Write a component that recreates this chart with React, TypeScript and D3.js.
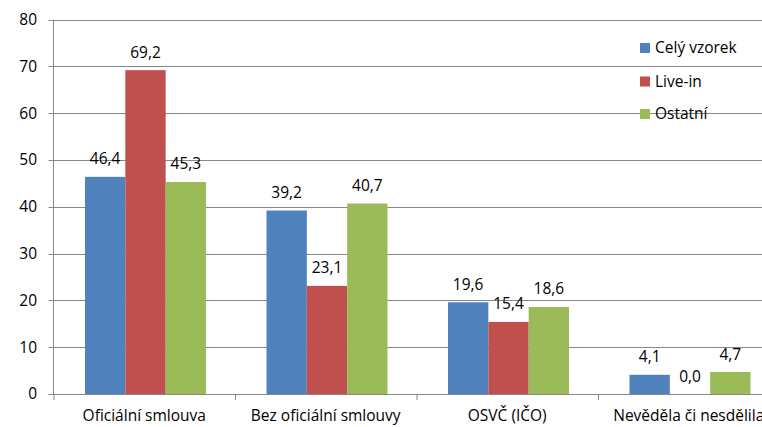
import React from "react";
import * as d3 from "d3";

const categories = ["Oficiální smlouva", "Bez oficiální smlouvy", "OSVČ (IČO)", "Nevěděla či nesdělila"];
const seriesNames = ["Celý vzorek", "Live-in", "Ostatní"];
const celyVzorek = [46.4, 39.2, 19.6, 4.1];
const liveIn = [69.2, 23.1, 15.4, 0.0];
const ostatni = [45.3, 40.7, 18.6, 4.7];
const yTicks = [0, 10, 20, 30, 40, 50, 60, 70, 80];
const colors = ["#4F81BD", "#C0504D", "#9BBB59"];

const W = 762;
const H = 427;
const FONT = "'Open Sans', Lato, sans-serif";
const FS = 15.5;

export default function App() {
  const seriesValues = [celyVzorek, liveIn, ostatni];
  const left = 53.5;
  const band = 181.5;
  const x = d3.scaleBand<string>().domain(categories).range([left, left + band * categories.length]).padding(0);
  const inner = d3.scaleBand<string>().domain(seriesNames).range([31.5, 152.5]).padding(0);
  const y = d3.scaleLinear().domain([0, 80]).range([394, 19.6]);
  const fmt = (v: number) => v.toFixed(1).replace(".", ",");

  return (
    <svg width={W} height={H} style={{ position: "absolute", left: 0, top: 0, background: "#fff" }}>
      <rect x={0} y={0} width={W} height={H} fill="#fff" />
      {yTicks.map((t) => (
        <g key={t}>
          <line x1={left - 5} x2={W} y1={Math.round(y(t)) + 0.5} y2={Math.round(y(t)) + 0.5} stroke="#878787" strokeWidth={1} />
          <text x={37} y={y(t)} dy="0.35em" textAnchor="end" fontFamily={FONT} fontSize={FS} fill="#000">
            {t}
          </text>
        </g>
      ))}
      <line x1={left} x2={left} y1={y(80)} y2={y(0)} stroke="#878787" strokeWidth={1} />
      {categories.map((c, i) => (
        <line key={"xt" + i} x1={(x(c) as number) + 0.5} x2={(x(c) as number) + 0.5} y1={y(0)} y2={y(0) + 6} stroke="#878787" strokeWidth={1} />
      ))}
      <line x1={left + band * 4 + 0.5} x2={left + band * 4 + 0.5} y1={y(0)} y2={y(0) + 6} stroke="#878787" />
      {seriesNames.map((s, si) =>
        categories.map((c, ci) => {
          const v = seriesValues[si][ci];
          const bx = (x(c) as number) + (inner(s) as number);
          const bw = inner.bandwidth();
          return (
            <g key={s + c}>
              {v > 0 && <rect x={bx} y={y(v)} width={bw} height={y(0) - y(v)} fill={colors[si]} />}
              <text x={bx + bw / 2} y={y(v) - 12.5} textAnchor="middle" fontFamily={FONT} fontSize={FS} fill="#000">
                {fmt(v)}
              </text>
            </g>
          );
        })
      )}
      {categories.map((c) => (
        <text key={"cl" + c} x={(x(c) as number) + band / 2} y={421} textAnchor="middle" fontFamily={FONT} fontSize={FS} fill="#000">
          {c}
        </text>
      ))}
      {seriesNames.map((s, i) => {
        const cy = [48, 81.5, 114][i];
        return (
          <g key={"lg" + s}>
            <rect x={640} y={cy - 5} width={10} height={10} fill={colors[i]} />
            <text x={655} y={cy} dy="0.35em" fontFamily={FONT} fontSize={FS} fill="#000">
              {s}
            </text>
          </g>
        );
      })}
    </svg>
  );
}
